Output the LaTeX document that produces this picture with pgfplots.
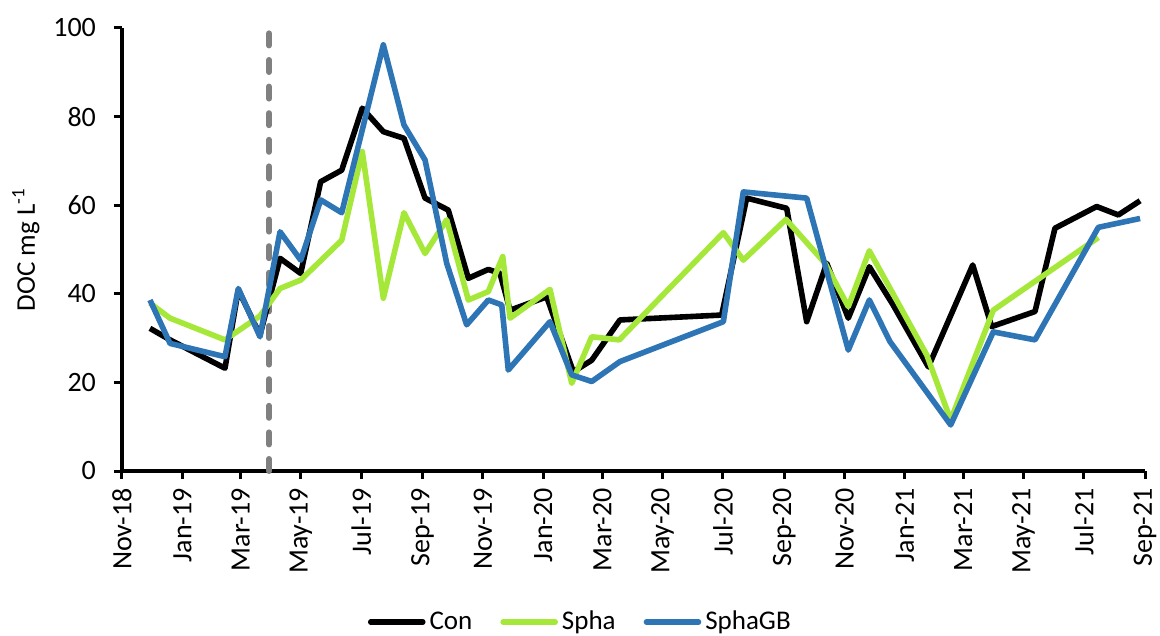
\documentclass[border=0pt]{standalone}
\usepackage{pgfplots}
\pgfplotsset{compat=1.18}
\usepackage{fontspec}
\setmainfont{Carlito}
\definecolor{conc}{HTML}{000000}
\definecolor{sphac}{HTML}{A6E83A}
\definecolor{sphagbc}{HTML}{2E75B6}
\definecolor{dashc}{HTML}{808080}
\begin{document}
\begin{tikzpicture}
\useasboundingbox (-61pt,-82.5pt) rectangle (519pt,235.5pt);
\begin{axis}[
  at={(0pt,0pt)}, anchor=south west,
  scale only axis, width=511.5pt, height=221.5pt,
  xmin=0, xmax=1035, ymin=0, ymax=100,
  axis lines=left, axis line style={line width=1.6pt, -},
  separate axis lines,
  tick align=outside, major tick length=4pt,
  tick style={line width=1.5pt, black},
  xtick={0,61,120,181,242,304,365,426,486,547,608,670,731,792,851,912,973,1035},
  xticklabels={Nov-18,Jan-19,Mar-19,May-19,Jul-19,Sep-19,Nov-19,Jan-20,Mar-20,May-20,Jul-20,Sep-20,Nov-20,Jan-21,Mar-21,May-21,Jul-21,Sep-21},
  x tick label style={rotate=90, anchor=east, font=\fontsize{14}{16}\selectfont, xshift=-1pt},
  ytick={0,20,40,60,80,100},
  y tick label style={font=\fontsize{14}{16}\selectfont, xshift=-5.5pt},
  /pgf/number format/assume math mode=true,
  ylabel={DOC mg L\textsuperscript{-1}},
  ylabel style={at={(axis description cs:-0.094,0.5)}, anchor=center, font=\fontsize{13.5}{16}\selectfont},
  legend style={at={(axis description cs:0.449,-0.341)}, anchor=center, draw=none, fill=none,
    legend columns=3, font=\fontsize{13.5}{16}\selectfont,
    /tikz/every even column/.append style={column sep=12pt},
    inner sep=0pt},
  legend image code/.code={\draw[#1, line cap=round] (0pt,0pt) -- (26pt,0pt);},
  clip=false,
]
\addplot[dashc, line width=3pt, line cap=round, dash pattern=on 6pt off 7.3pt, mark=none, forget plot] coordinates {(148.7,0) (148.7,100)};
\addplot[conc, line width=2.8pt, line join=round, mark=none] coordinates {
(28.3,32.2) (48.6,29.6) (104.2,23.2) (117.7,40.9) (139.6,30.7) (159.9,48.0) (180.8,44.6)
(201.0,65.3) (222.3,67.9) (243.1,81.9) (264.4,76.6) (285.3,75.1) (306.6,61.6) (330.1,58.9)
(350.4,43.5) (370.6,45.5) (382.4,44.6) (392.6,36.3) (429.7,39.3) (456.6,22.4) (475.2,25.0)
(503.8,34.1) (606.7,35.2) (632.0,61.6) (672.5,59.3) (692.7,33.7) (713.0,46.9) (734.8,34.5)
(756.1,46.1) (780.1,37.5) (815.8,23.5) (860.7,46.5) (879.9,32.6) (923.7,36.0) (943.9,54.8)
(986.1,59.7) (1008.0,57.8) (1030.0,61.0)};
\addlegendentry{Con}
\addplot[sphac, line width=2.8pt, line join=round, mark=none] coordinates {
(28.3,37.9) (48.6,34.5) (104.2,29.6) (139.6,35.0) (159.9,41.2) (180.8,43.1) (222.3,52.1)
(243.1,72.1) (264.4,39.0) (285.3,58.3) (306.6,49.1) (328.5,56.7) (350.4,38.6) (370.6,40.5)
(385.2,48.4) (392.6,34.5) (433.0,41.0) (455.0,19.8) (475.2,30.3) (503.1,29.6) (608.4,53.8)
(628.6,47.6) (671.8,56.8) (711.3,46.9) (734.8,37.1) (756.1,49.7) (814.2,26.2) (838.4,11.5)
(881.5,36.3) (987.8,52.7)};
\addlegendentry{Spha}
\addplot[sphagbc, line width=2.8pt, line join=round, mark=none] coordinates {
(28.3,38.6) (48.6,28.8) (104.2,25.8) (117.7,41.2) (139.6,30.3) (159.9,54.0) (180.8,47.6)
(201.0,61.2) (222.3,58.3) (243.1,77.0) (264.4,96.2) (285.3,78.1) (306.6,70.2) (328.5,46.9)
(348.7,33.0) (370.6,38.6) (384.2,37.5) (390.8,22.8) (433.0,33.7) (455.0,21.7) (475.2,20.2)
(503.8,24.7) (608.4,33.7) (628.6,63.0) (692.7,61.6) (734.8,27.3) (756.1,38.6) (777.0,29.2)
(838.4,10.4) (881.5,31.4) (923.7,29.6) (987.8,55.0) (1030.0,57.0)};
\addlegendentry{SphaGB}
\end{axis}
\end{tikzpicture}
\end{document}
